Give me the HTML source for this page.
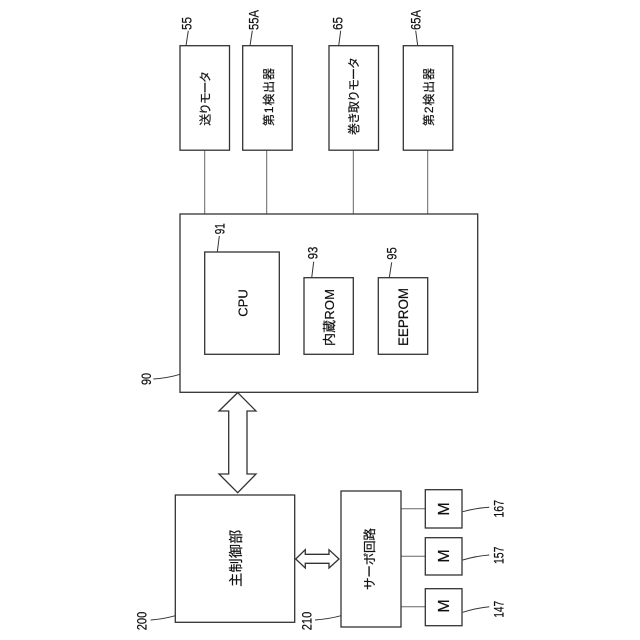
<!DOCTYPE html>
<html>
<head>
<meta charset="utf-8">
<style>
html,body{margin:0;padding:0;background:#fff;width:640px;height:640px;overflow:hidden}
svg{display:block}
.b{fill:#fff;stroke:#333;stroke-width:1.3}
.l{stroke:#666;stroke-width:1;fill:none}
.k{stroke:#333;stroke-width:1;fill:none}
text{font-family:"Liberation Sans","Noto Sans CJK JP",sans-serif;fill:#111;stroke:#111;stroke-width:.2;text-anchor:middle;dominant-baseline:central}
.n{font-size:14px}
</style>
</head>
<body>
<svg width="640" height="640" viewBox="0 0 640 640" xmlns="http://www.w3.org/2000/svg">
<!-- connector lines -->
<path class="l" d="M204.7 150V214M266.7 150V214M353.3 150V214M427.7 150V214M401 508.7H425.5M401 556.3H425.5M401 606.7H425.5"/>
<!-- top boxes -->
<rect class="b" x="180" y="45.7" width="49.5" height="104.5"/>
<rect class="b" x="242.7" y="45.7" width="49.5" height="104.5"/>
<rect class="b" x="329" y="45.7" width="49.5" height="104.5"/>
<rect class="b" x="403.3" y="45.7" width="49.5" height="104.5"/>
<!-- main -->
<rect class="b" x="180" y="214" width="297.7" height="178.3"/>
<rect class="b" x="204.7" y="252" width="74.6" height="102.3"/>
<rect class="b" x="304" y="277.7" width="49.3" height="76.6"/>
<rect class="b" x="378.3" y="277.7" width="49.4" height="76.6"/>
<!-- lower -->
<rect class="b" x="175.3" y="495" width="119.4" height="127.3"/>
<rect class="b" x="341" y="491" width="60" height="136"/>
<rect class="b" x="425.3" y="489.7" width="36.7" height="38.3"/>
<rect class="b" x="425.3" y="537.7" width="36.7" height="37.3"/>
<rect class="b" x="425.3" y="588.7" width="36.7" height="37"/>
<!-- arrows -->
<path class="b" d="M237.7 392.6L256 411H247V474H256L237.7 492.7L219 474H228.7V411H219Z"/>
<path class="b" d="M295.7 559L305.3 549.7V554.3H329V549.7L339 559L329 568V563.3H305.3V568Z"/>
<!-- leaders -->
<path class="k" d="M188.3 30.7L186 45.7M252.3 30.7L250 45.7M340.7 30.7L338.7 45.7M415.7 30.7L417.7 45.7M219.3 236L217.3 252M313.7 261.7L311.7 277.7M391.7 262.3L389.3 277.7"/>
<path class="k" d="M153.3 379Q168 378 180 374.3M150.7 620Q164 619 175.3 615.7M315 620Q329 619 341 615.7M462.7 511.7Q476 508 489.3 507.3M462.7 560Q476 556 489.3 555M462.7 612.3Q476 608 489.3 606.7"/>
<!-- box labels -->
<text transform="translate(205.5 98.3) rotate(-90)" font-size="12" textLength="55">送りモータ</text>
<text transform="translate(268.8 97) rotate(-90)" font-size="12" textLength="58">第1検出器</text>
<text transform="translate(353.8 96) rotate(-90)" font-size="12" textLength="78">巻き取りモータ</text>
<text transform="translate(428.8 97) rotate(-90)" font-size="12" textLength="58">第2検出器</text>
<text transform="translate(243.2 303) rotate(-90)" font-size="13">CPU</text>
<text transform="translate(329.5 317.5) rotate(-90)" font-size="13" textLength="57">内蔵ROM</text>
<text transform="translate(403.5 317) rotate(-90)" font-size="13.4">EEPROM</text>
<text transform="translate(235.8 558.3) rotate(-90)" font-size="14" textLength="57">主制御部</text>
<text transform="translate(369.8 559) rotate(-90)" font-size="12.6" textLength="62">サーボ回路</text>
<text transform="translate(444.7 509) rotate(-90)" font-size="16">M</text>
<text transform="translate(444.7 556) rotate(-90)" font-size="16">M</text>
<text transform="translate(444.7 606) rotate(-90)" font-size="16">M</text>
<!-- numbers -->
<text class="n" transform="translate(186.5 23.5) rotate(-90)" textLength="13" lengthAdjust="spacingAndGlyphs">55</text>
<text class="n" transform="translate(253.3 20) rotate(-90)" textLength="20" lengthAdjust="spacingAndGlyphs">55A</text>
<text class="n" transform="translate(337.3 23.5) rotate(-90)" textLength="13" lengthAdjust="spacingAndGlyphs">65</text>
<text class="n" transform="translate(415.7 20) rotate(-90)" textLength="20" lengthAdjust="spacingAndGlyphs">65A</text>
<text class="n" transform="translate(219.3 228.7) rotate(-90)" textLength="11" lengthAdjust="spacingAndGlyphs">91</text>
<text class="n" transform="translate(312.7 253) rotate(-90)" textLength="12.6" lengthAdjust="spacingAndGlyphs">93</text>
<text class="n" transform="translate(391.7 253.5) rotate(-90)" textLength="12.4" lengthAdjust="spacingAndGlyphs">95</text>
<text class="n" transform="translate(146 379) rotate(-90)" textLength="12" lengthAdjust="spacingAndGlyphs">90</text>
<text class="n" transform="translate(141.7 621) rotate(-90)" textLength="18.5" lengthAdjust="spacingAndGlyphs">200</text>
<text class="n" transform="translate(306.7 621) rotate(-90)" textLength="18.5" lengthAdjust="spacingAndGlyphs">210</text>
<text class="n" transform="translate(498.3 508.8) rotate(-90)" textLength="17.7" lengthAdjust="spacingAndGlyphs">167</text>
<text class="n" transform="translate(498.3 555.3) rotate(-90)" textLength="17.4" lengthAdjust="spacingAndGlyphs">157</text>
<text class="n" transform="translate(498.3 609.3) rotate(-90)" textLength="16.7" lengthAdjust="spacingAndGlyphs">147</text>
</svg>
</body>
</html>
